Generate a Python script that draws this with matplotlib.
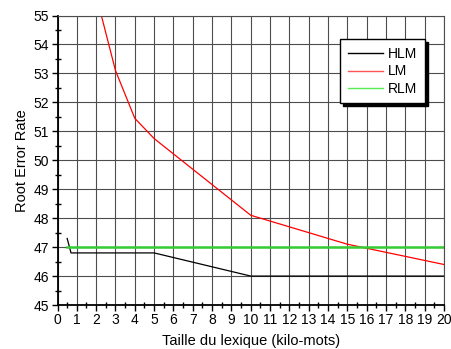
import matplotlib.pyplot as plt
from matplotlib.ticker import MultipleLocator

plt.rcParams['font.family'] = ['Liberation Sans', 'DejaVu Sans']

# données
hlm_x = [0.5, 0.7, 5, 10, 20]
hlm_y = [47.3, 46.8, 46.8, 46.0, 46.0]
lm_x = [2, 3, 4, 5, 10, 15, 20]
lm_y = [55.7, 53.1, 51.45, 50.75, 48.1, 47.1, 46.4]
rlm_x = [0.5, 20]
rlm_y = [47.0, 47.0]

fig = plt.figure(figsize=(4.51, 3.49), dpi=100)
ax = fig.add_axes([0.1275, 0.126, 0.857, 0.8295])

ax.plot(hlm_x, hlm_y, color='black', linewidth=0.9, label='HLM')
ax.plot(lm_x, lm_y, color='#ff0000', linewidth=0.9, label='LM')
ax.plot(rlm_x, rlm_y, color='#33cc33', linewidth=1.8, label='RLM')

ax.set_xlim(0, 20)
ax.set_ylim(45, 55)
ax.xaxis.set_major_locator(MultipleLocator(1))
ax.xaxis.set_minor_locator(MultipleLocator(0.5))
ax.yaxis.set_major_locator(MultipleLocator(1))
ax.yaxis.set_minor_locator(MultipleLocator(0.5))

ax.grid(True, which='major', color='0.3', linewidth=0.8)
ax.set_axisbelow(True)
ax.tick_params(which='major', direction='out', length=4, width=1, labelsize=10, pad=2)
ax.tick_params(which='minor', direction='inout', length=4, width=1)

for side in ['top', 'right']:
    ax.spines[side].set_color('0.3')
    ax.spines[side].set_linewidth(0.8)
for side in ['left', 'bottom']:
    ax.spines[side].set_linewidth(1.3)

ax.set_xlabel('Taille du lexique (kilo-mots)', fontsize=10.5, labelpad=5)
ax.set_ylabel('Root Error Rate', fontsize=10.5, labelpad=3)

leg = ax.legend(loc='upper right', bbox_to_anchor=(0.951, 0.918), borderaxespad=0,
                fancybox=False, framealpha=1, edgecolor='black',
                shadow={'color': 'black', 'alpha': 1},
                fontsize=10, handlelength=2.5, labelspacing=0.25,
                borderpad=0.55, handletextpad=0.4)
leg_colors = ['black', '#ff5555', '#55ee55']
for line, c in zip(leg.get_lines(), leg_colors):
    line.set_color(c)
    line.set_linewidth(1.0)

fig.savefig('out.png', dpi=100)
